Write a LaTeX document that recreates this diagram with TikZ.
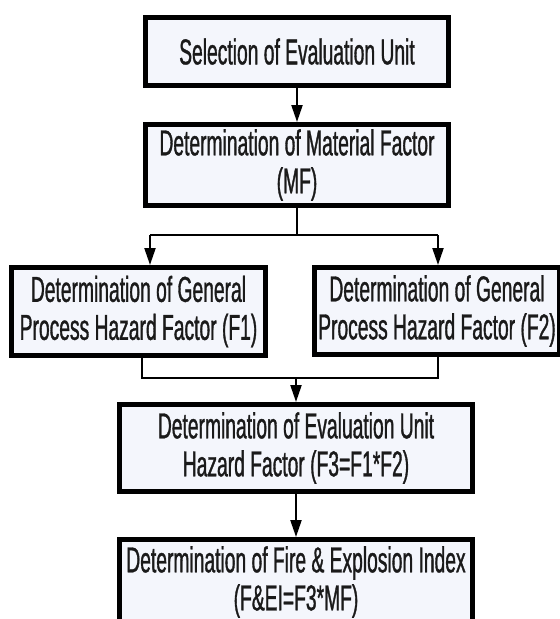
\documentclass[tikz,border=0pt]{standalone}
\usepackage{fontspec}
\setmainfont[FakeStretch=0.535,FakeBold=0.9]{Liberation Sans}
\usetikzlibrary{arrows.meta}
\definecolor{boxfill}{HTML}{F4F6FC}
\definecolor{txt}{HTML}{1A1A1A}
\tikzset{
  flowbox/.style={draw=black, line width=5pt, fill=boxfill, inner sep=0pt,
    align=center, text=txt, font=\fontsize{36}{38}\selectfont},
  conn/.style={draw=black, line width=2.2pt},
  arr/.style={conn, -{Triangle[width=11pt,length=17pt]}}
}
\begin{document}
\begin{tikzpicture}[x=1pt,y=-1pt]
\useasboundingbox (0,0) rectangle (560,619);
\clip (0,0) rectangle (560,619);
\fill[white] (0,0) rectangle (560,619);
\node[flowbox, minimum width=303pt, minimum height=68pt] (b1) at (297,51.5) {Selection of Evaluation Unit};
\node[flowbox, minimum width=303pt, minimum height=81pt] (b2) at (297,165) {Determination of Material Factor\\(MF)};
\node[flowbox, minimum width=254pt, minimum height=88pt] (f1) at (138.5,311.5) {Determination of General\\Process Hazard Factor (F1)};
\node[flowbox, minimum width=245pt, minimum height=87pt] (f2) at (437,311) {Determination of General\\Process Hazard Factor (F2)};
\node[flowbox, minimum width=353pt, minimum height=87pt] (b3) at (296,448) {Determination of Evaluation Unit\\Hazard Factor (F3=F1*F2)};
\node[flowbox, minimum width=353pt, minimum height=85pt] (b4) at (296,582) {Determination of Fire \& Explosion Index\\(F\&EI=F3*MF)};
\coordinate (j1) at (297,235);
\coordinate (s1) at (150,235);
\coordinate (s2) at (438,235);
\coordinate (m1) at (142,378);
\coordinate (m2) at (438,378);
\coordinate (j2) at (296,378);
\draw[arr] (b1.south) -- (b2.north);
\draw[conn] (b2.south) -- (j1);
\draw[conn] (s1) -- (s2);
\draw[arr] (s1) -- (s1 |- f1.north);
\draw[arr] (s2) -- (s2 |- f2.north);
\draw[conn] (m1 |- f1.south) -- (m1) -- (m2) -- (m2 |- f2.south);
\draw[arr] (j2) -- (b3.north);
\draw[arr] (b3.south) -- (b4.north);
\end{tikzpicture}
\end{document}
